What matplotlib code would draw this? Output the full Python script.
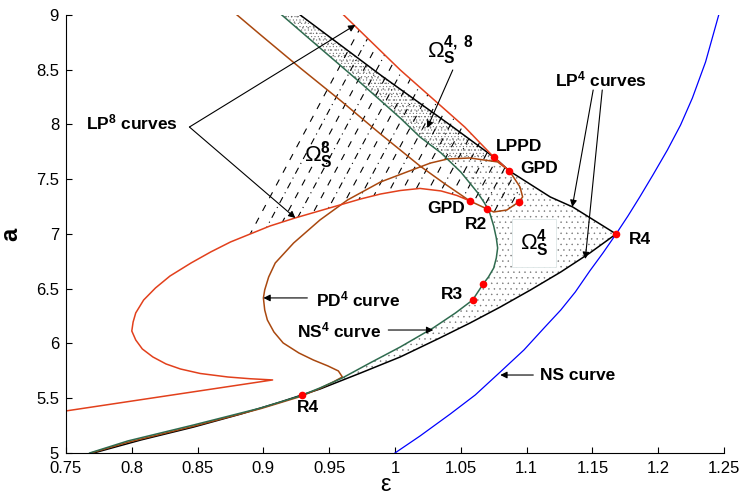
import numpy as np
import matplotlib
matplotlib.use('Agg')
from matplotlib import pyplot as plt
from matplotlib.patches import Polygon

plt.rcParams['font.family'] = ['Liberation Sans', 'DejaVu Sans']
plt.rcParams['mathtext.fontset'] = 'custom'
plt.rcParams['mathtext.rm'] = 'Liberation Sans'
plt.rcParams['mathtext.bf'] = 'Liberation Sans:bold'
plt.rcParams['mathtext.it'] = 'Liberation Sans:italic'
plt.rcParams['hatch.linewidth'] = 0.3

# NS curve (period 1)
ns_eps = [1.000, 1.019, 1.042, 1.061, 1.080, 1.098, 1.114, 1.126, 1.137, 1.148,
          1.158, 1.168, 1.177, 1.186, 1.196, 1.207, 1.217, 1.226, 1.236, 1.246]
ns_a = [5.0, 5.155, 5.356, 5.530, 5.740, 5.941, 6.151, 6.306, 6.470, 6.662,
        6.826, 7.0, 7.164, 7.338, 7.539, 7.767, 7.995, 8.242, 8.571, 9.0]

# LP4 curves (upper and lower branch, both ending at R4)
lp4_up_eps = [0.928, 0.989, 1.044, 1.076, 1.087, 1.118, 1.135, 1.168]
lp4_up_a = [9.0, 8.452, 7.977, 7.694, 7.575, 7.338, 7.247, 7.0]
lp4_lo_eps = [1.168, 1.148, 1.126, 1.103, 1.080, 1.057, 1.034, 1.004, 0.974, 0.943,
              0.913, 0.883, 0.847, 0.807, 0.771]
lp4_lo_a = [7.0, 6.826, 6.653, 6.489, 6.333, 6.187, 6.050, 5.877, 5.731, 5.584,
            5.466, 5.356, 5.237, 5.119, 5.0]

# NS4 curve
ns4_eps = [0.914, 0.943, 0.974, 1.004, 1.019, 1.035, 1.050, 1.063, 1.068, 1.072,
           1.075, 1.077, 1.078, 1.077, 1.075, 1.071, 1.067, 1.059, 1.046, 1.029,
           1.004, 0.981, 0.960, 0.943, 0.928, 0.898, 0.847, 0.797, 0.768]
ns4_a = [9.0, 8.699, 8.379, 8.059, 7.886, 7.740, 7.566, 7.374, 7.283, 7.192,
         7.073, 6.963, 6.872, 6.781, 6.689, 6.607, 6.543, 6.397, 6.279, 6.142,
         5.968, 5.822, 5.685, 5.594, 5.521, 5.411, 5.256, 5.110, 5.0]

# PD4 curve
pd4_eps = [0.880, 0.898, 0.928, 0.959, 0.989, 1.019, 1.038, 1.057, 1.070, 1.075,
           1.085, 1.094, 1.097, 1.095, 1.087, 1.078, 1.057, 1.040, 1.027, 1.019,
           0.989, 0.964, 0.943, 0.923, 0.909, 0.904, 0.901, 0.900, 0.901, 0.903,
           0.908, 0.915, 0.927, 0.938, 0.949, 0.957, 0.960, 0.953, 0.943, 0.928,
           0.898, 0.847, 0.797, 0.769]
pd4_a = [9.0, 8.817, 8.516, 8.215, 7.913, 7.621, 7.457, 7.301, 7.228, 7.201,
         7.219, 7.292, 7.338, 7.429, 7.575, 7.658, 7.694, 7.685, 7.648, 7.612,
         7.475, 7.311, 7.128, 6.918, 6.735, 6.607, 6.489, 6.416, 6.306, 6.215,
         6.105, 6.005, 5.913, 5.849, 5.795, 5.749, 5.694, 5.648, 5.590, 5.515,
         5.405, 5.245, 5.098, 5.0]

# LP8 curves
lp8_up_eps = [0.961, 1.004, 1.053, 1.075, 1.087]
lp8_up_a = [9.0, 8.498, 7.977, 7.703, 7.575]
lp8_lo_eps = [0.750, 0.907, 0.890, 0.873, 0.852, 0.837, 0.826, 0.816, 0.808, 0.803,
              0.800, 0.801, 0.803, 0.809, 0.818, 0.829, 0.845, 0.860, 0.875, 0.890,
              0.905, 0.924, 0.953, 0.974, 0.989, 1.004, 1.019, 1.035, 1.047, 1.057]
lp8_lo_a = [5.384, 5.667, 5.678, 5.694, 5.726, 5.767, 5.813, 5.877, 5.950, 6.032,
            6.114, 6.196, 6.279, 6.397, 6.507, 6.616, 6.735, 6.836, 6.927, 7.000,
            7.073, 7.146, 7.247, 7.320, 7.365, 7.397, 7.416, 7.393, 7.352, 7.301]

# codimension-two points
pt_eps = [0.929, 1.059, 1.067, 1.070, 1.057, 1.087, 1.075, 1.094, 1.168]
pt_a = [5.525, 6.397, 6.543, 7.228, 7.301, 7.575, 7.703, 7.292, 7.0]

x_ticks = [0.75, 0.8, 0.85, 0.9, 0.95, 1.0, 1.05, 1.1, 1.15, 1.2, 1.25]
x_labels = ['0.75', '0.8', '0.85', '0.9', '0.95', '1', '1.05', '1.1', '1.15', '1.2', '1.25']
y_ticks = [5, 5.5, 6, 6.5, 7, 7.5, 8, 8.5, 9]
y_labels = ['5', '5.5', '6', '6.5', '7', '7.5', '8', '8.5', '9']

RED = '#e2401c'
BROWN = '#a9480f'
GREEN = '#2f6b4f'

fig = plt.figure(figsize=(7.44, 4.98), dpi=100)
ax = fig.add_axes([0.0887, 0.0904, 0.8844, 0.8795])

# stability region of period 4 (stippled)
reg4_x = lp4_up_eps + lp4_lo_eps[1:10] + ns4_eps[23::-1]
reg4_y = lp4_up_a + lp4_lo_a[1:10] + ns4_a[23::-1]
ax.fill(reg4_x, reg4_y, facecolor='none', edgecolor='0.45', hatch='...', lw=0)

# overlap of period 4 and period 8 (denser stipple)
band_x = lp4_up_eps[:5] + pd4_eps[15:18] + ns4_eps[5::-1]
band_y = lp4_up_a[:5] + pd4_a[15:18] + ns4_a[5::-1]
ax.fill(band_x, band_y, facecolor='none', edgecolor='0.35', hatch='.....', lw=0)

# stability region of period 8 (dashed hatching clipped to region)
reg8_x = lp8_up_eps + pd4_eps[13:6:-1] + lp8_lo_eps[28:15:-1]
reg8_y = lp8_up_a + pd4_a[13:6:-1] + lp8_lo_a[28:15:-1]
clip = Polygon(np.column_stack([reg8_x, reg8_y]), closed=True,
               facecolor='none', edgecolor='none', transform=ax.transData)
ax.add_patch(clip)
hatch_slope = 22.5
aa = np.array([5.0, 9.0])
for k in range(22):
    e0 = 0.890 + 0.0098 * k
    line, = ax.plot(e0 + (aa - 7.0) / hatch_slope, aa, color='k', lw=0.8)
    if k % 2 == 0:
        line.set_dashes((6, 7))
    else:
        line.set_dashes((6, 4, 1, 4))
    line.set_clip_path(clip)

ax.plot(ns_eps, ns_a, color='#0000ff', lw=0.9)
ax.plot(lp4_up_eps, lp4_up_a, color='k', lw=1.1)
ax.plot(lp4_lo_eps, lp4_lo_a, color='k', lw=1.1)
ax.plot(pd4_eps, pd4_a, color=BROWN, lw=1.1)
ax.plot(ns4_eps, ns4_a, color=GREEN, lw=1.1)
ax.plot(lp8_up_eps, lp8_up_a, color=RED, lw=1.1)
ax.plot(lp8_lo_eps, lp8_lo_a, color=RED, lw=1.1)
ax.plot(pt_eps, pt_a, 'o', color='#ff0000', ms=5.5, mec='none', zorder=5)

ax.set_xlim(0.75, 1.25)
ax.set_ylim(5, 9)
ax.set_xticks(x_ticks)
ax.set_xticklabels(x_labels)
ax.set_yticks(y_ticks)
ax.set_yticklabels(y_labels)
ax.tick_params(direction='in', length=4, width=0.8, labelsize=12)
ax.tick_params(axis='x', pad=6)
ax.tick_params(axis='y', pad=5)
ax.spines['top'].set_visible(False)
ax.spines['right'].set_visible(False)
for s in ['left', 'bottom']:
    ax.spines[s].set_linewidth(0.8)

ax.set_xlabel('ε', fontsize=17)
ax.xaxis.set_label_coords(0.485, -0.048)
ax.set_ylabel('a', fontsize=17, fontweight='bold')
ax.yaxis.set_label_coords(-0.066, 0.5)

bold = dict(fontsize=12.5, fontweight='bold', va='center')
arrow = dict(arrowstyle='-|>', color='k', lw=0.8, mutation_scale=10, shrinkA=0, shrinkB=0)

ax.text(0.7655, 8.02, r'LP$^{\mathbf{8}}$ curves', ha='left', **bold)
ax.annotate('', xy=(0.9699, 8.909), xytext=(0.8438, 7.977), arrowprops=arrow)
ax.annotate('', xy=(0.9243, 7.146), xytext=(0.8438, 7.977), arrowprops=arrow)

ax.text(0.9418, 7.72, r'$\Omega_{\mathbf{S}}^{\mathbf{8}}$', fontsize=16, ha='center', va='center')
ax.text(1.0424, 8.68, r'$\Omega_{\mathbf{S}}^{\mathbf{4,\ 8}}$', fontsize=16, ha='center', va='center')
ax.annotate('', xy=(1.0245, 7.968), xytext=(1.0439, 8.498), arrowprops=arrow)
ax.text(1.1058, 6.918, r'$\Omega_{\mathbf{S}}^{\mathbf{4}}$', fontsize=16, ha='center', va='center',
        bbox=dict(boxstyle='square,pad=0.35', fc='white', ec='#dde6e6', lw=0.6))

ax.text(1.0763, 7.80, 'LPPD', ha='left', **bold)
ax.text(1.0952, 7.598, 'GPD', ha='left', **bold)
ax.text(1.0534, 7.233, 'GPD', ha='right', **bold)
ax.text(1.0618, 7.091, 'R2', ha='center', **bold)
ax.text(1.1780, 6.954, 'R4', ha='left', **bold)
ax.text(1.0519, 6.443, 'R3', ha='right', **bold)
ax.text(0.9342, 5.416, 'R4', ha='center', **bold)

ax.text(1.1218, 8.411, r'LP$^{\mathbf{4}}$ curves', ha='left', **bold)
ax.annotate('', xy=(1.1347, 7.247), xytext=(1.1506, 8.315), arrowprops=arrow)
ax.annotate('', xy=(1.1446, 6.772), xytext=(1.1575, 8.315), arrowprops=arrow)

ax.text(0.9402, 6.406, r'PD$^{\mathbf{4}}$ curve', ha='left', **bold)
ax.annotate('', xy=(0.9000, 6.416), xytext=(0.9334, 6.416), arrowprops=arrow)
ax.text(0.9258, 6.123, r'NS$^{\mathbf{4}}$ curve', ha='left', **bold)
ax.annotate('', xy=(1.0291, 6.123), xytext=(0.9949, 6.123), arrowprops=arrow)
ax.text(1.1104, 5.708, 'NS curve', ha='left', **bold)
ax.annotate('', xy=(1.0800, 5.712), xytext=(1.1051, 5.712), arrowprops=arrow)

fig.savefig('out.png', dpi=100)
